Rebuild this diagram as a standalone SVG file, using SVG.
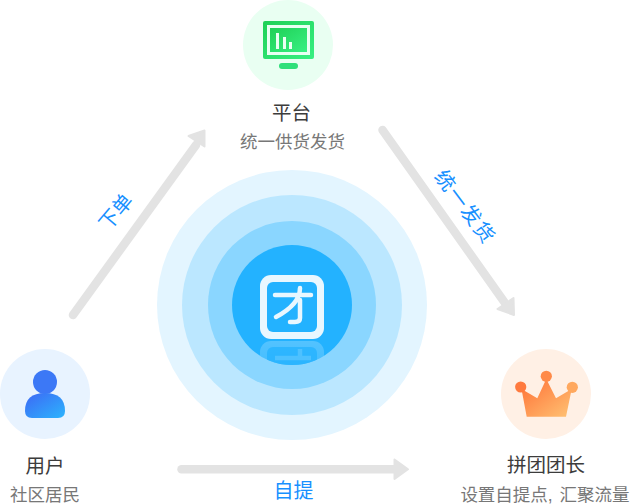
<svg xmlns="http://www.w3.org/2000/svg" width="630" height="504" viewBox="0 0 630 504">
<style>
text{font-family:"Liberation Sans","Noto Sans CJK SC",sans-serif;text-anchor:middle}
.t{font-size:19.500px;fill:#3c3c3c}
.s{font-size:17.500px;fill:#777}
.l{font-size:20px;fill:#1890ff}
.ln{stroke:#e3e3e3;stroke-width:8.500;stroke-linecap:round;fill:none}
.hd{fill:#e3e3e3;stroke:#e3e3e3;stroke-width:2;stroke-linejoin:round}
</style>
<defs>
<linearGradient id="gg" x1="0" y1="0" x2="1" y2="1"><stop offset="0" stop-color="#1fd056"/><stop offset="1" stop-color="#38f082"/></linearGradient>
<linearGradient id="gb" x1="0" y1="0" x2="1" y2="1"><stop offset="0" stop-color="#3d68f5"/><stop offset="1" stop-color="#2cb4fd"/></linearGradient>
<linearGradient id="go" x1="0" y1="0" x2="1" y2="1"><stop offset="0" stop-color="#ff6f35"/><stop offset="1" stop-color="#ffc374"/></linearGradient>
<linearGradient id="fade" x1="0" y1="0" x2="0" y2="1"><stop offset="0" stop-color="#fff" stop-opacity=".22"/><stop offset="1" stop-color="#fff" stop-opacity=".04"/></linearGradient>
<clipPath id="cc"><circle cx="292" cy="305" r="60"/></clipPath>
</defs>
<g id="hub">
<circle cx="292" cy="305" r="135" fill="#e3f5ff"/>
<circle cx="292" cy="305" r="110" fill="#bbe7ff"/>
<circle cx="292" cy="305" r="84" fill="#8ad6ff"/>
<circle cx="292" cy="305" r="60" fill="#23b2ff"/>
<rect x="260" y="275" width="64" height="64" rx="11" fill="#e9f7ff"/>
<rect x="267" y="282" width="50" height="50" rx="6" fill="#23b2ff"/>
<path d="M275 295H311M300 288C300 300 291 309 276 317M300 300V318Q300 322 295 322H290" fill="none" stroke="#e9f7ff" stroke-width="4.500" stroke-linecap="round"/>
<g clip-path="url(#cc)">
<rect x="260" y="341" width="64" height="60" rx="11" fill="url(#fade)"/>
<rect x="267" y="347" width="50" height="50" rx="6" fill="#23b2ff" opacity=".75"/>
<path d="M275 358H311M300 349V356" fill="none" stroke="#fff" stroke-opacity=".16" stroke-width="4.500"/>
</g>
</g>
<g id="connectors">
<path class="ln" d="M73 315L196 145"/>
<path class="hd" d="M188.500 136L204.500 130.500L204.500 146.500Z"/>
<path class="ln" d="M382.500 130L505 303"/>
<path class="hd" d="M497.500 309L514 315L513.500 298Z"/>
<path class="ln" d="M181.500 469.300H397"/>
<path class="hd" d="M394.500 459.500L408 469.300L394.500 479Z"/>
</g>
<g id="node-platform">
<circle cx="288" cy="45" r="45" fill="#e9fff2"/>
<rect x="263" y="21" width="51" height="38" rx="2" fill="url(#gg)"/>
<rect x="267" y="25" width="43" height="30" fill="#e9fff2"/>
<rect x="270" y="28" width="37" height="24" fill="url(#gg)"/>
<rect x="276" y="33" width="3" height="16" fill="#e9fff2"/>
<rect x="283" y="37" width="3" height="12" fill="#e9fff2"/>
<rect x="289" y="42" width="3" height="7" fill="#e9fff2"/>
<rect x="279" y="63" width="19" height="6" rx="3" fill="#2fe07a"/>
<text class="t" x="291.500" y="120">平台</text>
<text class="s" x="292.500" y="148">统一供货发货</text>
</g>
<g id="node-user">
<circle cx="45" cy="394" r="45" fill="#e8f3ff"/>
<circle cx="45" cy="382" r="12" fill="#3c78f6"/>
<path d="M25 411Q25 393 45 393Q65 393 65 411Q65 418 58 418H32Q25 418 25 411Z" fill="url(#gb)"/>
<text class="t" x="45" y="473">用户</text>
<text class="s" x="45" y="501">社区居民</text>
</g>
<g id="node-leader">
<circle cx="546" cy="394" r="45" fill="#fff0e5"/>
<path d="M521.500 389L537.300 398.300L546.300 379L556 398.300L571.700 389L566 416.700H526.700Z" fill="url(#go)"/>
<circle cx="520.700" cy="387" r="5.600" fill="#ff7a3e"/>
<circle cx="546.300" cy="376.300" r="5.600" fill="#ff8a48"/>
<circle cx="572.300" cy="387.300" r="5.600" fill="#ffa85e"/>
<text class="t" x="546" y="472">拼团团长</text>
<text class="s" x="545" y="500.500" word-spacing="2">设置自提点, 汇聚流量</text>
</g>
<g id="labels">
<text class="l" transform="translate(116 212) rotate(-50)" y="7">下单</text>
<text class="l" transform="translate(465 207) rotate(53)" y="7" letter-spacing="1.500">统一发货</text>
<text class="l" x="293.500" y="498">自提</text>
</g>
</svg>
